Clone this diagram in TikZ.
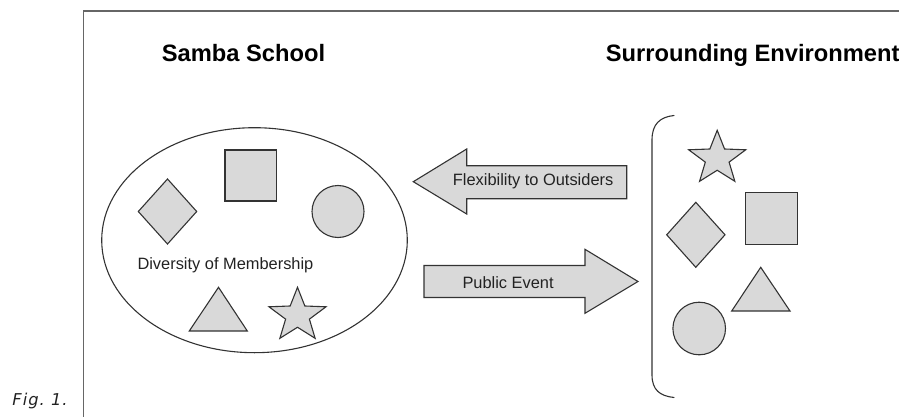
\documentclass[tikz,border=0pt]{standalone}
\usepackage{fontspec}
\setmainfont{Liberation Sans}
\newfontfamily\capfont[LetterSpace=6]{DejaVu Sans}
\definecolor{shapefill}{HTML}{D9D9D9}
\definecolor{linecol}{HTML}{333333}
\definecolor{framecol}{HTML}{666666}
\definecolor{labelcol}{HTML}{222222}
\tikzset{
  shp/.style={draw=linecol, fill=shapefill, line width=1.1pt, line join=miter},
  outline/.style={draw=linecol, line width=1.1pt},
  title/.style={font=\fontsize{23.7}{28}\selectfont\bfseries, text=black, inner sep=0pt},
  lbl/.style={font=\fontsize{16.4}{19}\selectfont, text=labelcol, inner sep=0pt},
  mystar/.pic={
    \path[shp, yscale=0.94] (-90:30) -- (-54:12.5) -- (-18:30) -- (18:12.5) -- (54:30)
      -- (90:12.5) -- (126:30) -- (162:12.5) -- (198:30) -- (234:12.5) -- cycle;
  }
}
\begin{document}
\begin{tikzpicture}[x=1pt, y=-1pt]
\useasboundingbox (0,0) rectangle (899,417);
% frame
\draw[draw=framecol, line width=1.5pt] (83.7,417) -- (83.7,11) -- (899,11);
% titles
\node[title, anchor=base] (samba) at (243.5,61.7) {Samba School};
\node[title, anchor=base west] (env) at (605.7,61.7) {Surrounding Environment};
% ellipse
\draw[outline] (254.5,240.2) ellipse [x radius=152.8, y radius=112.5];
% shapes in the school
\path[shp] (225,150) rectangle (276.7,201);
\path[shp] (167.5,179) -- (196.7,211.5) -- (167.5,244) -- (138.3,211.5) -- cycle;
\path[shp] (338,211.5) circle [radius=26];
\path[shp] (218.5,287.3) -- (247.3,331) -- (189.3,331) -- cycle;
\pic at (297.5,315.5) {mystar};
\node[lbl, anchor=base west] (div) at (137.3,269.3) {Diversity of Membership};
% arrows
\path[shp] (413.3,181.7) -- (466.7,149) -- (466.7,165.7) -- (626.7,165.7) -- (626.7,198.7)
  -- (466.7,198.7) -- (466.7,214) -- cycle;
\node[lbl, anchor=base west] (flex) at (452.7,185) {Flexibility to Outsiders};
\path[shp] (424,265.5) -- (585,265.5) -- (585,249.3) -- (638,281.5) -- (585,313.3)
  -- (585,297.5) -- (424,297.5) -- cycle;
\node[lbl, anchor=base west] (pub) at (462.3,288.7) {Public Event};
% bracket
\draw[outline, line cap=round] (674,115.5) .. controls (660,117) and (652,124) .. (652,140)
  -- (652,375) .. controls (652,390) and (660,396) .. (674,397.5);
% environment shapes
\pic at (717.2,158.5) {mystar};
\path[shp] (695.8,202.3) -- (725,234.8) -- (695.8,267.3) -- (666.7,234.8) -- cycle;
\path[shp] (745.7,192.7) rectangle (797.7,244.3);
\path[shp] (760.7,267.3) -- (790,311) -- (731.7,311) -- cycle;
\path[shp] (699.2,328.5) circle [radius=26.3];
% caption
\node[font=\fontsize{16.3}{20}\capfont\itshape, text=labelcol, inner sep=0pt, anchor=base west] (fig) at (12.3,405) {Fig.\ 1.};
\end{tikzpicture}
\end{document}
